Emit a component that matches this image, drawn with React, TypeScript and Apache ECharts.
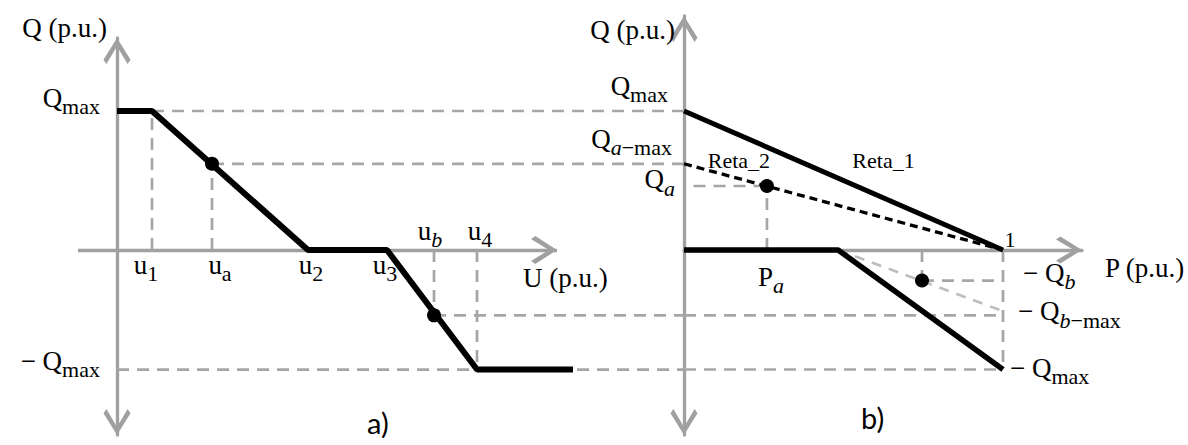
import React, { useEffect, useRef } from 'react';
import * as echarts from 'echarts';

// ---------- Panel a) : U (p.u.) -> Q (p.u.) ----------
const LEFT_X = [-0.39, 5.67];
const LEFT_Y = [-1.331, 1.525];
const U_AXIS_END = 4.4;
const u1 = 0.35;
const ua = 0.95;
const u2 = 1.91;
const u3 = 2.7;
const ub = 3.17;
const u4 = 3.6;
const uEnd = 4.56;
const QMAX = 1;
const QMIN = -0.86;
const Q_A_LEFT = 0.62;
const Q_B_LEFT = -0.47;
const curveU = [0, u1, u2, u3, u4, uEnd];
const curveQ = [QMAX, QMAX, 0, 0, QMIN, QMIN];

// ---------- Panel b) : P (p.u.) -> Q (p.u.) ----------
const RIGHT_X = [0, 1.2476];
const RIGHT_Y = [-1.331, 1.683];
const P_A = 0.26;
const P_KNEE = 0.483;
const P_B = 0.746;
const P_ONE = 1;
const Q_A_MAX = 0.62;
const Q_A = 0.46;
const Q_B = -0.22;
const Q_B_MAX = -0.47;
const Q_B_LINE_END = -0.44;
const reta1P = [0, P_ONE];
const reta1Q = [QMAX, 0];
const reta2P = [0, P_ONE];
const reta2Q = [Q_A_MAX, 0];
const lowerP = [0, P_KNEE, P_ONE];
const lowerQ = [0, 0, QMIN];

const zip = (xs: number[], ys: number[]) => xs.map((x, i) => [x, ys[i]]);

const leftDashed: number[][][] = [
  [[u1, 0], [u1, QMAX]],
  [[ua, 0], [ua, Q_A_LEFT]],
  [[ub, 0], [ub, Q_B_LEFT]],
  [[u4, 0], [u4, QMIN]],
  [[u1, QMAX], [LEFT_X[1], QMAX]],
  [[ua, Q_A_LEFT], [LEFT_X[1], Q_A_LEFT]],
  [[ub, Q_B_LEFT], [LEFT_X[1], Q_B_LEFT]],
  [[0, QMIN], [LEFT_X[1], QMIN]],
];
const rightDashed: number[][][] = [
  [[0, QMIN], [P_ONE, QMIN]],
  [[0, Q_B_MAX], [P_ONE, Q_B_MAX]],
  [[P_ONE, 0], [P_ONE, QMIN]],
  [[P_B, 0], [P_B, Q_B]],
  [[P_B, Q_B], [P_ONE, Q_B]],
  [[0.03, Q_A], [P_A, Q_A]],
  [[P_A, 0], [P_A, Q_A]],
];
const rightLightDashed: number[][][] = [[[P_KNEE, 0], [P_ONE, Q_B_LINE_END]]];
const leftPoints = [[ua, Q_A_LEFT], [ub, Q_B_LEFT]];
const rightPoints = [[P_A, Q_A], [P_B, Q_B]];

const SERIF = '"Liberation Serif", "Times New Roman", serif';
const SANS = 'Lato, "Liberation Sans", sans-serif';
const GRAY = '#a0a0a0';
const DASH_GRAY = '#a6a6a6';
const LIGHT_GRAY = '#bdbdbd';
const CH = 'path://M50 0 L100 80 L89 96 L50 30 L11 96 L0 80 Z';
const CH_SIZE = [28, 26];

const RICH: any = {
  m: { fontFamily: SERIF, fontSize: 27, lineHeight: 40, color: '#000' },
  s: { fontFamily: SERIF, fontSize: 22, lineHeight: 22, padding: [18, 0, 0, 0], color: '#000' },
  i: { fontFamily: SERIF, fontSize: 22, lineHeight: 22, padding: [18, 0, 0, 0], color: '#000', fontStyle: 'italic' },
  r: { fontFamily: SERIF, fontSize: 22, lineHeight: 26, color: '#000' },
};

type Lbl = [number, number, string, number, number, string];
const leftLabels: Lbl[] = [
  [0, LEFT_Y[1], '{m|Q (p.u.)}', -10, -10, 'right'],
  [0, QMAX, '{m|Q}{s|max}', -17, -13, 'right'],
  [0, QMIN, '{m|− Q}{s|max}', -17, -9, 'right'],
  [u1, 0, '{m|u}{s|1}', -6, 15, 'center'],
  [ua, 0, '{m|u}{s|a}', 8, 15, 'center'],
  [u2, 0, '{m|u}{s|2}', 3, 15, 'center'],
  [u3, 0, '{m|u}{s|3}', -2, 15, 'center'],
  [ub, 0, '{m|u}{i|b}', -4, -19, 'center'],
  [u4, 0, '{m|u}{s|4}', 3, -19, 'center'],
  [U_AXIS_END, 0, '{m|U (p.u.)}', -34, 28, 'left'],
];
const rightLabels: Lbl[] = [
  [0, RIGHT_Y[1], '{m|Q (p.u.)}', -9, 14, 'right'],
  [0, QMAX, '{m|Q}{s|max}', -16, -25, 'right'],
  [0, Q_A_MAX, '{m|Q}{i|a}{s|−max}', -12, -25, 'right'],
  [0, Q_A, '{m|Q}{i|a}', -9, -7, 'right'],
  [P_A, Q_A, '{r|Reta_2}', -28, -26, 'center'],
  [0.5, 0.5, '{r|Reta_1}', 40, -20, 'center'],
  [P_ONE, 0, '{r|1}', 7, -10, 'center'],
  [RIGHT_X[1], 0, '{m|P (p.u.)}', 23, 18, 'left'],
  [P_A, 0, '{m|P}{i|a}', 4, 27, 'center'],
  [P_ONE, Q_B, '{m|− Q}{i|b}', 20, -8, 'left'],
  [P_ONE, Q_B_MAX, '{m|− Q}{i|b}{s|−max}', 15, -4, 'left'],
  [P_ONE, QMIN, '{m|− Q}{s|max}', 7, -2, 'left'],
];

function lineSeries(grid: number, pts: number[][], width: number, color: string, type: any, z: number) {
  return {
    type: 'line',
    xAxisIndex: grid,
    yAxisIndex: grid,
    data: pts,
    symbol: 'none',
    silent: true,
    clip: false,
    z,
    lineStyle: { width, color, type, opacity: 1 },
  };
}

function labelSeries(grid: number, labels: Lbl[]) {
  return {
    type: 'scatter',
    xAxisIndex: grid,
    yAxisIndex: grid,
    symbol: 'circle',
    symbolSize: 1,
    silent: true,
    clip: false,
    z: 10,
    itemStyle: { color: 'rgba(0,0,0,0)', opacity: 1 },
    label: { show: true, position: 'inside', verticalAlign: 'middle', rich: RICH, color: '#000', opacity: 1 },
    data: labels.map(([x, y, text, dx, dy, align]) => ({
      value: [x, y],
      label: { formatter: text, offset: [dx, dy], align },
    })),
  };
}

function pointSeries(grid: number, pts: number[][]) {
  return {
    type: 'scatter',
    xAxisIndex: grid,
    yAxisIndex: grid,
    data: pts,
    symbolSize: 14,
    itemStyle: { color: '#000', opacity: 1 },
    silent: true,
    z: 5,
  };
}

function yAxisCfg(grid: number, range: number[]) {
  return {
    type: 'value',
    gridIndex: grid,
    min: range[0],
    max: range[1],
    axisLine: {
      show: true,
      onZero: true,
      symbol: [CH, CH],
      symbolSize: CH_SIZE,
      symbolOffset: [13, -13],
      lineStyle: { color: GRAY, width: 3.3 },
    },
    axisTick: { show: false },
    axisLabel: { show: false },
    splitLine: { show: false },
  };
}

export default function App() {
  const ref = useRef<HTMLDivElement>(null);
  useEffect(() => {
    if (!ref.current) return;
    const chart = echarts.init(ref.current, undefined, { renderer: 'svg' });
    const series: any[] = [];

    // visible U axis of panel a) (drawn as a mark line so that the grid can reach panel b)
    series.push({
      type: 'line',
      xAxisIndex: 0,
      yAxisIndex: 0,
      data: [],
      silent: true,
      z: 1,
      markLine: {
        silent: true,
        z: 1,
        symbol: ['none', CH],
        symbolSize: CH_SIZE,
        symbolOffset: [0, [0, 13]],
        label: { show: false },
        lineStyle: { color: GRAY, width: 3.3, type: 'solid', opacity: 1 },
        data: [[{ coord: [LEFT_X[0], 0] }, { coord: [U_AXIS_END, 0] }]],
      },
    });

    leftDashed.forEach((s) => series.push(lineSeries(0, s, 2.7, DASH_GRAY, [12, 8], 2)));
    rightDashed.forEach((s) => series.push(lineSeries(1, s, 2.7, DASH_GRAY, [12, 8], 2)));
    rightLightDashed.forEach((s) => series.push(lineSeries(1, s, 2.5, LIGHT_GRAY, [10, 8], 2)));

    series.push(lineSeries(0, zip(curveU, curveQ), 6, '#000', 'solid', 4));
    series.push(lineSeries(1, zip(reta1P, reta1Q), 5, '#000', 'solid', 4));
    series.push(lineSeries(1, zip(reta2P, reta2Q), 3.3, '#000', [8, 5], 4));
    series.push(lineSeries(1, zip(lowerP, lowerQ), 5.5, '#000', 'solid', 4));

    series.push(pointSeries(0, leftPoints));
    series.push(pointSeries(1, rightPoints));

    series.push(labelSeries(0, leftLabels));
    series.push(labelSeries(1, rightLabels));

    chart.setOption({
      animation: false,
      backgroundColor: '#fff',
      title: [
        { text: 'a)', left: 367, top: 408, padding: 0, textStyle: { fontFamily: SANS, fontSize: 29, fontWeight: 'normal', color: '#000' } },
        { text: 'b)', left: 861, top: 403, padding: 0, textStyle: { fontFamily: SANS, fontSize: 29, fontWeight: 'normal', color: '#000' } },
      ],
      grid: [
        { left: 78, top: 38, width: 606, height: 397 },
        { left: 684, top: 16, width: 398, height: 419 },
      ],
      xAxis: [
        {
          type: 'value', gridIndex: 0, min: LEFT_X[0], max: LEFT_X[1], show: false,
          axisLine: { onZero: true }, splitLine: { show: false },
        },
        {
          type: 'value', gridIndex: 1, min: RIGHT_X[0], max: RIGHT_X[1],
          axisLine: {
            show: true, onZero: true, symbol: ['none', CH], symbolSize: CH_SIZE, symbolOffset: [0, -13],
            lineStyle: { color: GRAY, width: 3.3 },
          },
          axisTick: { show: false }, axisLabel: { show: false }, splitLine: { show: false },
        },
      ],
      yAxis: [yAxisCfg(0, LEFT_Y), yAxisCfg(1, RIGHT_Y)],
      series,
    });
    return () => chart.dispose();
  }, []);
  return (
    <div
      ref={ref}
      style={{ position: 'absolute', left: 0, top: 0, width: 1188, height: 445, background: '#fff' }}
    />
  );
}
